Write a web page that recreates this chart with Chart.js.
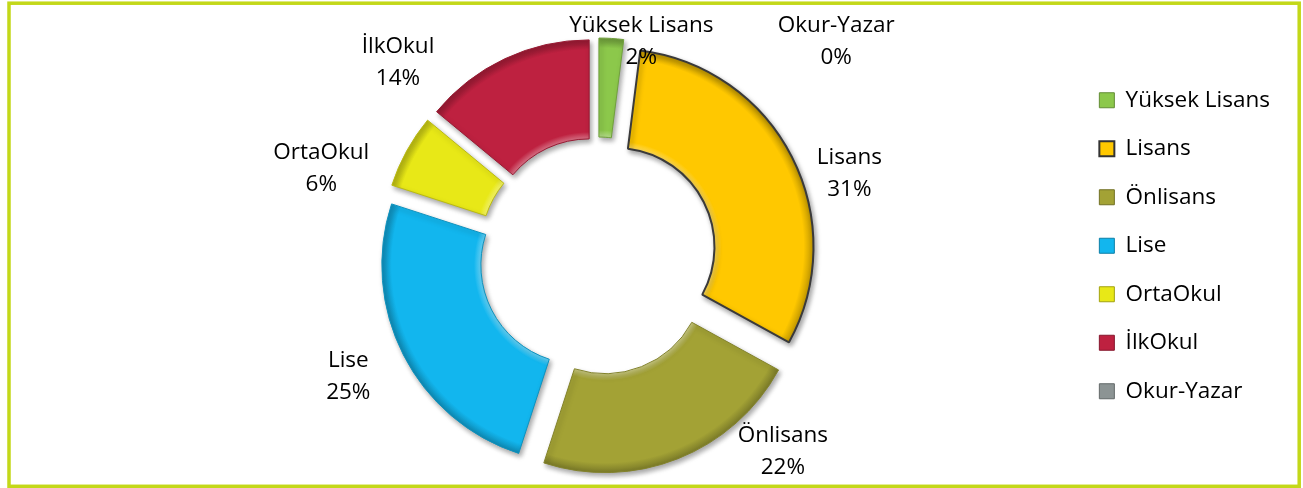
<!DOCTYPE html>
<html lang="tr">
<head>
  <meta charset="UTF-8">
  <title>Eğitim Durumu</title>
  <script src="https://cdn.jsdelivr.net/npm/chart.js"></script>
  <style>
    html, body { margin: 0; padding: 0; background: #fff; }
    #wrap { width: 1303px; height: 488px; }
  </style>
</head>
<body>
  <div id="wrap"><canvas id="egitimChart" width="1303" height="488"></canvas></div>

  <script>
    // chart data
    const categories = ['Yüksek Lisans', 'Lisans', 'Önlisans', 'Lise', 'OrtaOkul', 'İlkOkul', 'Okur-Yazar'];
    const values = [2, 31, 22, 25, 6, 14, 0];
    const baseColors = ['#8cc84b', '#ffc800', '#a3a235', '#12b6ee', '#e8e817', '#be2140', '#8c9494'];

    const explode = 20;   // px each slice is pulled out
    const outerR = 198;

    function shade(hex, f) {
      // f > 0 mixes with white, f < 0 with black
      const n = parseInt(hex.slice(1), 16);
      let r = n >> 16, g = (n >> 8) & 255, b = n & 255;
      const t = f > 0 ? 255 : 0, p = Math.abs(f);
      r = Math.round(r + (t - r) * p);
      g = Math.round(g + (t - g) * p);
      b = Math.round(b + (t - b) * p);
      return 'rgb(' + r + ',' + g + ',' + b + ')';
    }

    function midAngle(i) {
      const total = values.reduce((a, b) => a + b, 0);
      let before = 0;
      for (let k = 0; k < i; k++) before += values[k];
      return -Math.PI / 2 + (before + values[i] / 2) / total * Math.PI * 2;
    }

    function sliceFill(context) {
      const chart = context.chart;
      const area = chart.chartArea;
      const i = context.dataIndex;
      if (!area) return baseColors[i];
      const a = midAngle(i);
      const cx = (area.left + area.right) / 2 + Math.cos(a) * explode;
      const cy = (area.top + area.bottom) / 2 + Math.sin(a) * explode;
      const g = chart.ctx.createRadialGradient(cx, cy, outerR * 0.5, cx, cy, outerR);
      g.addColorStop(0, shade(baseColors[i], 0.35));
      g.addColorStop(0.07, baseColors[i]);
      g.addColorStop(0.9, baseColors[i]);
      g.addColorStop(1, shade(baseColors[i], -0.25));
      return g;
    }

    // pull every slice out along its middle angle
    const explodePlugin = {
      id: 'explodeSlices',
      afterDatasetsUpdate(chart) {
        chart.getDatasetMeta(0).data.forEach(arc => {
          const mid = (arc.startAngle + arc.endAngle) / 2;
          arc.x += Math.cos(mid) * explode;
          arc.y += Math.sin(mid) * explode;
        });
      }
    };

    const shadowPlugin = {
      id: 'sliceShadow',
      beforeDatasetDraw(chart) {
        const ctx = chart.ctx;
        ctx.save();
        ctx.shadowColor = 'rgba(0,0,0,0.35)';
        ctx.shadowBlur = 5;
        ctx.shadowOffsetX = 2;
        ctx.shadowOffsetY = 3;
      },
      afterDatasetDraw(chart) {
        chart.ctx.restore();
      }
    };

    // category + percent labels, placed around the ring (polar: degrees from top, px from centre)
    const sliceLabels = {
      id: 'sliceLabels',
      afterDatasetsDraw(chart, args, opts) {
        const ctx = chart.ctx;
        const area = chart.chartArea;
        const cx = (area.left + area.right) / 2;
        const cy = (area.top + area.bottom) / 2;
        const total = values.reduce((a, b) => a + b, 0);
        ctx.save();
        ctx.font = '22.5px "Open Sans"';
        ctx.fillStyle = '#000';
        ctx.textAlign = 'center';
        ctx.textBaseline = 'middle';
        chart.getDatasetMeta(0).data.forEach((arc, i) => {
          const spot = opts.spots[i];
          const a = (spot[0] - 90) * Math.PI / 180;
          const x = cx + Math.cos(a) * spot[1];
          const y = cy + Math.sin(a) * spot[1];
          ctx.fillText(categories[i], x, y - 16);
          ctx.fillText(Math.round(values[i] / total * 100) + '%', x, y + 16);
        });
        ctx.restore();
      }
    };

    const framePlugin = {
      id: 'frame',
      afterDraw(chart) {
        const ctx = chart.ctx;
        ctx.save();
        ctx.strokeStyle = '#c3d819';
        ctx.lineWidth = 3.5;
        ctx.strokeRect(9, 3.2, 1290.2, 483.1);
        ctx.restore();
      }
    };

    const ctx = document.getElementById('egitimChart').getContext('2d');
    const chart = new Chart(ctx, {
      type: 'doughnut',
      data: {
        labels: categories,
        datasets: [{
          data: values,
          backgroundColor: sliceFill,
          borderColor: baseColors.map((c, i) => i === 1 ? '#3a3a3a' : shade(c, -0.2)),
          borderWidth: baseColors.map((c, i) => i === 1 ? 2 : 1),
          hoverOffset: 0,
          clip: false
        }]
      },
      options: {
        responsive: false,
        animation: false,
        events: [],
        radius: outerR,
        cutout: '50%',
        layout: { padding: { left: 122, right: 23, top: 63, bottom: 39 } },
        plugins: {
          tooltip: { enabled: false },
          legend: {
            position: 'right',
            align: 'start',
            labels: {
              boxWidth: 15,
              boxHeight: 15,
              padding: 26,
              color: '#000',
              font: { family: 'Open Sans', size: 22.5 },
              generateLabels: () => categories.map((c, i) => ({
                text: c,
                fillStyle: baseColors[i],
                strokeStyle: i === 1 ? '#333' : shade(baseColors[i], -0.3),
                lineWidth: i === 1 ? 2 : 1,
                fontColor: '#000',
                hidden: false,
                index: i
              }))
            }
          },
          sliceLabels: {
            spots: [[11.5, 219], [71.8, 265], [136.5, 269], [244.2, 277], [287.6, 290], [314.1, 278], [48, 321]]
          }
        }
      },
      plugins: [explodePlugin, shadowPlugin, sliceLabels, framePlugin]
    });
  </script>
</body>
</html>
